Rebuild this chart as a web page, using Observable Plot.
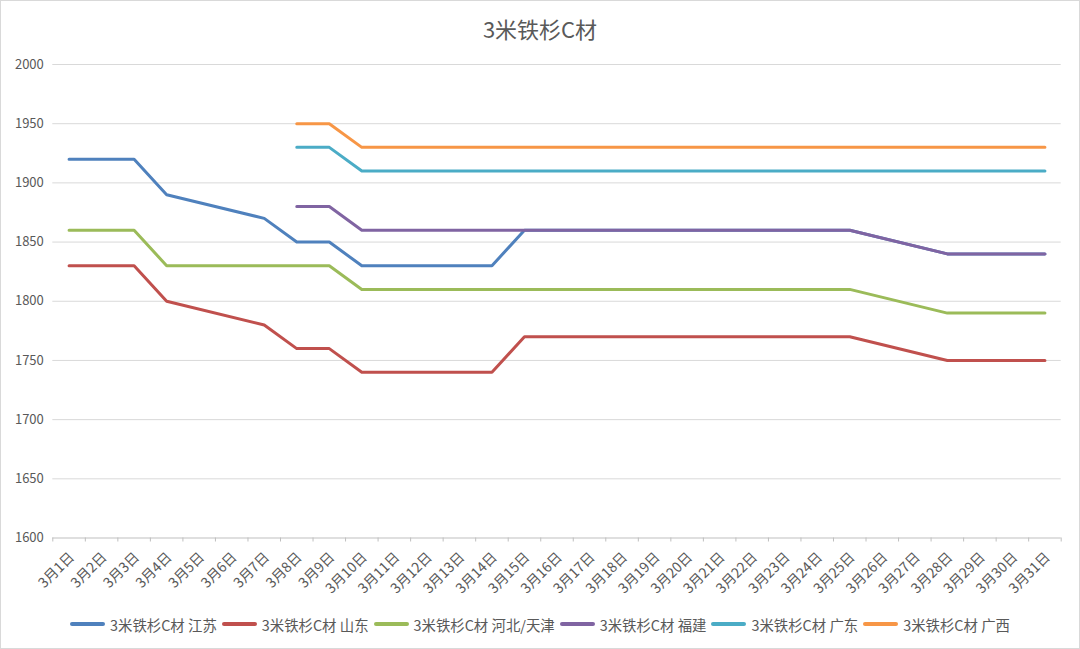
<!DOCTYPE html>
<html>
<head>
<meta charset="utf-8">
<script src="https://cdn.jsdelivr.net/npm/d3@7"></script>
<script src="https://cdn.jsdelivr.net/npm/@observablehq/plot@0.6"></script>
<style>
  html, body { margin: 0; padding: 0; background: #fff; }
  #chart { position: relative; width: 1078px; height: 647px; border: 1px solid #d9d9d9; overflow: hidden;
           font-family: "Noto Sans CJK SC", "Noto Sans", sans-serif; color: #595959; background: #fff; }
  #title { position: absolute; left: 0; top: 0; width: 100%; height: 54px; line-height: 54px; text-align: center; font-size: 22px; color: #595959; }
  #plot { position: absolute; left: 0; top: 49px; }
  #legend { position: absolute; left: 0; top: 611px; width: 100%; height: 24px; display: flex; justify-content: center; align-items: center; font-size: 14.4px; color: #595959; white-space: nowrap; }
  .item { display: flex; align-items: center; margin: 0 2.5px; }
  .sw { display: inline-block; width: 35px; height: 3.5px; border-radius: 2px; margin-right: 5px; }
</style>
</head>
<body>
<div id="chart">
  <div id="title">3米铁杉C材</div>
  <div id="plot"></div>
  <div id="legend"></div>
</div>
<script>
const categories = ["3月1日","3月2日","3月3日","3月4日","3月5日","3月6日","3月7日","3月8日","3月9日","3月10日",
  "3月11日","3月12日","3月13日","3月14日","3月15日","3月16日","3月17日","3月18日","3月19日","3月20日",
  "3月21日","3月22日","3月23日","3月24日","3月25日","3月26日","3月27日","3月28日","3月29日","3月30日","3月31日"];

const seriesNames = ["3米铁杉C材 江苏","3米铁杉C材 山东","3米铁杉C材 河北/天津","3米铁杉C材 福建","3米铁杉C材 广东","3米铁杉C材 广西"];
const seriesColors = ["#4f81bd","#c0504d","#9bbb59","#8064a2","#4bacc6","#f79646"];

const jiangsu   = [1920,1920,1920,1890,null,null,1870,1850,1850,1830,1830,1830,1830,1830,1860,1860,1860,1860,1860,1860,1860,1860,1860,1860,1860,null,null,1840,1840,1840,1840];
const shandong  = [1830,1830,1830,1800,null,null,1780,1760,1760,1740,1740,1740,1740,1740,1770,1770,1770,1770,1770,1770,1770,1770,1770,1770,1770,null,null,1750,1750,1750,1750];
const hebei     = [1860,1860,1860,1830,null,null,1830,1830,1830,1810,1810,1810,1810,1810,1810,1810,1810,1810,1810,1810,1810,1810,1810,1810,1810,null,null,1790,1790,1790,1790];
const fujian    = [null,null,null,null,null,null,null,1880,1880,1860,1860,1860,1860,1860,1860,1860,1860,1860,1860,1860,1860,1860,1860,1860,1860,null,null,1840,1840,1840,1840];
const guangdong = [null,null,null,null,null,null,null,1930,1930,1910,1910,1910,1910,1910,1910,1910,1910,1910,1910,1910,1910,1910,1910,1910,1910,null,null,1910,1910,1910,1910];
const guangxi   = [null,null,null,null,null,null,null,1950,1950,1930,1930,1930,1930,1930,1930,1930,1930,1930,1930,1930,1930,1930,1930,1930,1930,null,null,1930,1930,1930,1930];

const yTicks = [1600,1650,1700,1750,1800,1850,1900,1950,2000];

const seriesValues = [jiangsu, shandong, hebei, fujian, guangdong, guangxi];
const rows = [];
seriesValues.forEach((vals, s) => {
  vals.forEach((v, i) => { if (v != null) rows.push({date: categories[i], value: v, series: seriesNames[s]}); });
});

const W = 1078, H = 550, ML = 51.3, MR = 18.3, MT = 14, MB = 62.5;
const step = (W - ML - MR) / categories.length;

const chart = Plot.plot({
  width: W, height: H,
  marginLeft: ML, marginRight: MR, marginTop: MT, marginBottom: MB,
  style: { fontFamily: '"Noto Sans CJK SC", "Noto Sans", sans-serif', fontSize: "13px", color: "#595959", background: "transparent", overflow: "visible" },
  x: { type: "point", domain: categories, padding: 0.5, round: false, axis: null },
  y: { domain: [1600, 2000], axis: null },
  color: { domain: seriesNames, range: seriesColors },
  marks: [
    Plot.ruleY(yTicks.filter(v => v > 1600), { stroke: "#d9d9d9", strokeWidth: 1 }),
    Plot.ruleY([1600], { stroke: "#bfbfbf", strokeWidth: 1 }),
    Plot.ruleX(categories, { x: d => d, y1: 1600, y2: 1600, insetBottom: -4, dx: -step / 2, stroke: "#bfbfbf" }),
    Plot.ruleX(categories.slice(-1), { x: d => d, y1: 1600, y2: 1600, insetBottom: -4, dx: step / 2, stroke: "#bfbfbf" }),
    Plot.axisY(yTicks, { label: null, tickSize: 0, tickPadding: 9, fontSize: 13, fill: "#595959", tickFormat: d => String(d) }),
    Plot.text(categories, { x: d => d, frameAnchor: "bottom", rotate: -45, textAnchor: "end", dx: 6, dy: 20, fontSize: 14, fill: "#595959" }),
    Plot.line(rows, { x: "date", y: "value", z: "series", stroke: "series", strokeWidth: 3, strokeLinejoin: "round", strokeLinecap: "round" })
  ]
});
document.getElementById("plot").appendChild(chart);

const legend = document.getElementById("legend");
seriesNames.forEach((name, i) => {
  const item = document.createElement("div");
  item.className = "item";
  const sw = document.createElement("span");
  sw.className = "sw";
  sw.style.background = seriesColors[i];
  const t = document.createElement("span");
  t.textContent = name;
  item.appendChild(sw);
  item.appendChild(t);
  legend.appendChild(item);
});
</script>
</body>
</html>
